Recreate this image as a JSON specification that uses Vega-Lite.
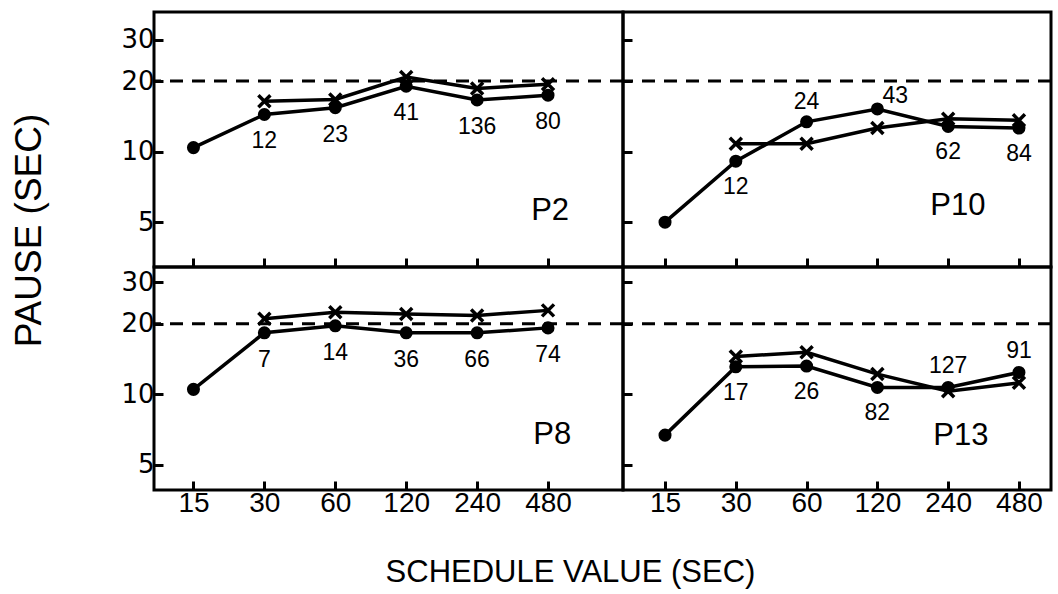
{
  "$schema": "https://vega.github.io/schema/vega-lite/v6.json",
  "background": "white",
  "padding": {"left": 8, "top": 10, "right": 2, "bottom": 2},
  "bounds": "flush",
  "spacing": 0,
  "columns": 2,
  "config": {
    "view": {"stroke": "black", "strokeWidth": 3},
    "axis": {
      "domain": false, "grid": false, "tickColor": "black", "tickWidth": 3, "tickSize": -9,
      "labelColor": "black", "labelFont": "Liberation Sans", "labelPadding": 9,
      "titleColor": "black", "titleFont": "Liberation Sans", "titleFontWeight": "normal",
      "labelOverlap": false, "labelFlush": false
    },
    "text": {"font": "Liberation Sans", "color": "black"}
  },
  "datasets": {
    "pts": [
      {"panel": "P2", "series": "circle", "sched": 15, "pause": 10.4},
      {"panel": "P2", "series": "circle", "sched": 30, "pause": 14.4, "n": "12", "side": "below"},
      {"panel": "P2", "series": "circle", "sched": 60, "pause": 15.4, "n": "23", "side": "below"},
      {"panel": "P2", "series": "circle", "sched": 120, "pause": 19.0, "n": "41", "side": "below"},
      {"panel": "P2", "series": "circle", "sched": 240, "pause": 16.6, "n": "136", "side": "below"},
      {"panel": "P2", "series": "circle", "sched": 480, "pause": 17.4, "n": "80", "side": "below"},
      {"panel": "P2", "series": "x", "sched": 30, "pause": 16.4},
      {"panel": "P2", "series": "x", "sched": 60, "pause": 16.7},
      {"panel": "P2", "series": "x", "sched": 120, "pause": 20.8},
      {"panel": "P2", "series": "x", "sched": 240, "pause": 18.6},
      {"panel": "P2", "series": "x", "sched": 480, "pause": 19.4},
      {"panel": "P10", "series": "circle", "sched": 15, "pause": 5.0},
      {"panel": "P10", "series": "circle", "sched": 30, "pause": 9.1, "n": "12", "side": "below"},
      {"panel": "P10", "series": "circle", "sched": 60, "pause": 13.4, "n": "24", "side": "above"},
      {"panel": "P10", "series": "circle", "sched": 120, "pause": 15.2, "n": "43", "side": "aboveright"},
      {"panel": "P10", "series": "circle", "sched": 240, "pause": 12.8, "n": "62", "side": "below"},
      {"panel": "P10", "series": "circle", "sched": 480, "pause": 12.6, "n": "84", "side": "below"},
      {"panel": "P10", "series": "x", "sched": 30, "pause": 10.8},
      {"panel": "P10", "series": "x", "sched": 60, "pause": 10.8},
      {"panel": "P10", "series": "x", "sched": 120, "pause": 12.6},
      {"panel": "P10", "series": "x", "sched": 240, "pause": 13.8},
      {"panel": "P10", "series": "x", "sched": 480, "pause": 13.6},
      {"panel": "P8", "series": "circle", "sched": 15, "pause": 10.5},
      {"panel": "P8", "series": "circle", "sched": 30, "pause": 18.3, "n": "7", "side": "below"},
      {"panel": "P8", "series": "circle", "sched": 60, "pause": 19.6, "n": "14", "side": "below"},
      {"panel": "P8", "series": "circle", "sched": 120, "pause": 18.3, "n": "36", "side": "below"},
      {"panel": "P8", "series": "circle", "sched": 240, "pause": 18.3, "n": "66", "side": "below"},
      {"panel": "P8", "series": "circle", "sched": 480, "pause": 19.2, "n": "74", "side": "below"},
      {"panel": "P8", "series": "x", "sched": 30, "pause": 21.0},
      {"panel": "P8", "series": "x", "sched": 60, "pause": 22.4},
      {"panel": "P8", "series": "x", "sched": 120, "pause": 22.0},
      {"panel": "P8", "series": "x", "sched": 240, "pause": 21.7},
      {"panel": "P8", "series": "x", "sched": 480, "pause": 22.8},
      {"panel": "P13", "series": "circle", "sched": 15, "pause": 6.7},
      {"panel": "P13", "series": "circle", "sched": 30, "pause": 13.1, "n": "17", "side": "below"},
      {"panel": "P13", "series": "circle", "sched": 60, "pause": 13.2, "n": "26", "side": "below"},
      {"panel": "P13", "series": "circle", "sched": 120, "pause": 10.7, "n": "82", "side": "below"},
      {"panel": "P13", "series": "circle", "sched": 240, "pause": 10.7, "n": "127", "side": "above"},
      {"panel": "P13", "series": "circle", "sched": 480, "pause": 12.4, "n": "91", "side": "above"},
      {"panel": "P13", "series": "x", "sched": 30, "pause": 14.5},
      {"panel": "P13", "series": "x", "sched": 60, "pause": 15.1},
      {"panel": "P13", "series": "x", "sched": 120, "pause": 12.2},
      {"panel": "P13", "series": "x", "sched": 240, "pause": 10.3},
      {"panel": "P13", "series": "x", "sched": 480, "pause": 11.2}
    ]
  },
  "concat": [
    {
      "width": 469, "height": 255,
      "data": {"name": "pts"},
      "layer": [
        {"transform": [{"filter": "datum.panel === 'P2' && datum.series === 'circle'"}],
         "mark": {"type": "line", "color": "black", "strokeWidth": 3.5},
         "encoding": {
           "x": {"field": "sched", "type": "quantitative", "scale": {"type": "log", "base": 2, "domain": [10.2, 999], "nice": false},
                 "axis": {"values": [15, 30, 60, 120, 240, 480], "labels": false, "title": null}},
           "y": {"field": "pause", "type": "quantitative", "scale": {"type": "log", "domain": [3.22, 39.4], "nice": false},
                 "axis": {"values": [5, 10, 20, 30], "format": "d", "labelFont": "DejaVu Sans", "labelFontSize": 26,
                          "title": "PAUSE (SEC)", "titleFontSize": 37, "titleX": -125, "titleY": 218, "titleAngle": -90,
                          "titleAlign": "center", "titleBaseline": "middle"}}
         }},
        {"data": {"values": [{"pause": 20}]},
         "mark": {"type": "rule", "strokeDash": [13, 9], "strokeWidth": 3, "color": "black"},
         "encoding": {"y": {"field": "pause", "type": "quantitative"}}},
        {"transform": [{"filter": "datum.panel === 'P2' && datum.series === 'x'"}],
         "mark": {"type": "line", "color": "black", "strokeWidth": 3.5},
         "encoding": {"x": {"field": "sched", "type": "quantitative"}, "y": {"field": "pause", "type": "quantitative"}}},
        {"transform": [{"filter": "datum.panel === 'P2' && datum.series === 'circle'"}],
         "mark": {"type": "point", "shape": "circle", "filled": true, "size": 170, "color": "black", "opacity": 1},
         "encoding": {"x": {"field": "sched", "type": "quantitative"}, "y": {"field": "pause", "type": "quantitative"}}},
        {"transform": [{"filter": "datum.panel === 'P2' && datum.series === 'x'"}],
         "mark": {"type": "point", "shape": "M-1,-1L1,1M-1,1L1,-1", "filled": false, "size": 144, "strokeWidth": 3.5, "color": "black", "opacity": 1},
         "encoding": {"x": {"field": "sched", "type": "quantitative"}, "y": {"field": "pause", "type": "quantitative"}}},
        {"transform": [{"filter": "datum.panel === 'P2' && datum.side === 'below'"}],
         "mark": {"type": "text", "fontSize": 23, "baseline": "middle", "dy": 27},
         "encoding": {"x": {"field": "sched", "type": "quantitative"}, "y": {"field": "pause", "type": "quantitative"}, "text": {"field": "n"}}},
        {"data": {"values": [{"label": "P2"}]},
         "mark": {"type": "text", "fontSize": 31, "baseline": "middle"},
         "encoding": {"x": {"datum": 490}, "y": {"datum": 5.6}, "text": {"field": "label"}}}
      ]
    },
    {
      "width": 428, "height": 255,
      "data": {"name": "pts"},
      "layer": [
        {"transform": [{"filter": "datum.panel === 'P10' && datum.series === 'circle'"}],
         "mark": {"type": "line", "color": "black", "strokeWidth": 3.5},
         "encoding": {
           "x": {"field": "sched", "type": "quantitative", "scale": {"type": "log", "base": 2, "domain": [9.94, 657], "nice": false},
                 "axis": {"values": [15, 30, 60, 120, 240, 480], "labels": false, "title": null}},
           "y": {"field": "pause", "type": "quantitative", "scale": {"type": "log", "domain": [3.22, 39.4], "nice": false},
                 "axis": {"values": [5, 10, 20, 30], "labels": false, "title": null}}
         }},
        {"data": {"values": [{"pause": 20}]},
         "mark": {"type": "rule", "strokeDash": [13, 9], "strokeWidth": 3, "color": "black"},
         "encoding": {"y": {"field": "pause", "type": "quantitative"}}},
        {"transform": [{"filter": "datum.panel === 'P10' && datum.series === 'x'"}],
         "mark": {"type": "line", "color": "black", "strokeWidth": 3.5},
         "encoding": {"x": {"field": "sched", "type": "quantitative"}, "y": {"field": "pause", "type": "quantitative"}}},
        {"transform": [{"filter": "datum.panel === 'P10' && datum.series === 'circle'"}],
         "mark": {"type": "point", "shape": "circle", "filled": true, "size": 170, "color": "black", "opacity": 1},
         "encoding": {"x": {"field": "sched", "type": "quantitative"}, "y": {"field": "pause", "type": "quantitative"}}},
        {"transform": [{"filter": "datum.panel === 'P10' && datum.series === 'x'"}],
         "mark": {"type": "point", "shape": "M-1,-1L1,1M-1,1L1,-1", "filled": false, "size": 144, "strokeWidth": 3.5, "color": "black", "opacity": 1},
         "encoding": {"x": {"field": "sched", "type": "quantitative"}, "y": {"field": "pause", "type": "quantitative"}}},
        {"transform": [{"filter": "datum.panel === 'P10' && datum.side === 'below'"}],
         "mark": {"type": "text", "fontSize": 23, "baseline": "middle", "dy": 26},
         "encoding": {"x": {"field": "sched", "type": "quantitative"}, "y": {"field": "pause", "type": "quantitative"}, "text": {"field": "n"}}},
        {"transform": [{"filter": "datum.panel === 'P10' && datum.side === 'above'"}],
         "mark": {"type": "text", "fontSize": 23, "baseline": "middle", "dy": -20},
         "encoding": {"x": {"field": "sched", "type": "quantitative"}, "y": {"field": "pause", "type": "quantitative"}, "text": {"field": "n"}}},
        {"transform": [{"filter": "datum.panel === 'P10' && datum.side === 'aboveright'"}],
         "mark": {"type": "text", "fontSize": 23, "baseline": "middle", "dy": -13, "dx": 18},
         "encoding": {"x": {"field": "sched", "type": "quantitative"}, "y": {"field": "pause", "type": "quantitative"}, "text": {"field": "n"}}},
        {"data": {"values": [{"label": "P10"}]},
         "mark": {"type": "text", "fontSize": 31, "baseline": "middle"},
         "encoding": {"x": {"datum": 264}, "y": {"datum": 5.85}, "text": {"field": "label"}}}
      ]
    },
    {
      "width": 469, "height": 223,
      "data": {"name": "pts"},
      "layer": [
        {"transform": [{"filter": "datum.panel === 'P8' && datum.series === 'circle'"}],
         "mark": {"type": "line", "color": "black", "strokeWidth": 3.5},
         "encoding": {
           "x": {"field": "sched", "type": "quantitative", "scale": {"type": "log", "base": 2, "domain": [10.2, 999], "nice": false},
                 "axis": {"values": [15, 30, 60, 120, 240, 480], "format": "d", "labelFontSize": 28, "labelPadding": 8,
                          "title": "SCHEDULE VALUE (SEC)", "titleFontSize": 31, "titleX": 416, "titleY": 82,
                          "titleAlign": "center", "titleBaseline": "middle"}},
           "y": {"field": "pause", "type": "quantitative", "scale": {"type": "log", "domain": [3.91, 34.9], "nice": false},
                 "axis": {"values": [5, 10, 20, 30], "format": "d", "labelFont": "DejaVu Sans", "labelFontSize": 26, "title": null}}
         }},
        {"data": {"values": [{"pause": 20}]},
         "mark": {"type": "rule", "strokeDash": [13, 9], "strokeWidth": 3, "color": "black"},
         "encoding": {"y": {"field": "pause", "type": "quantitative"}}},
        {"transform": [{"filter": "datum.panel === 'P8' && datum.series === 'x'"}],
         "mark": {"type": "line", "color": "black", "strokeWidth": 3.5},
         "encoding": {"x": {"field": "sched", "type": "quantitative"}, "y": {"field": "pause", "type": "quantitative"}}},
        {"transform": [{"filter": "datum.panel === 'P8' && datum.series === 'circle'"}],
         "mark": {"type": "point", "shape": "circle", "filled": true, "size": 170, "color": "black", "opacity": 1},
         "encoding": {"x": {"field": "sched", "type": "quantitative"}, "y": {"field": "pause", "type": "quantitative"}}},
        {"transform": [{"filter": "datum.panel === 'P8' && datum.series === 'x'"}],
         "mark": {"type": "point", "shape": "M-1,-1L1,1M-1,1L1,-1", "filled": false, "size": 144, "strokeWidth": 3.5, "color": "black", "opacity": 1},
         "encoding": {"x": {"field": "sched", "type": "quantitative"}, "y": {"field": "pause", "type": "quantitative"}}},
        {"transform": [{"filter": "datum.panel === 'P8' && datum.side === 'below'"}],
         "mark": {"type": "text", "fontSize": 23, "baseline": "middle", "dy": 27},
         "encoding": {"x": {"field": "sched", "type": "quantitative"}, "y": {"field": "pause", "type": "quantitative"}, "text": {"field": "n"}}},
        {"data": {"values": [{"label": "P8"}]},
         "mark": {"type": "text", "fontSize": 31, "baseline": "middle"},
         "encoding": {"x": {"datum": 500}, "y": {"datum": 6.7}, "text": {"field": "label"}}}
      ]
    },
    {
      "width": 428, "height": 223,
      "data": {"name": "pts"},
      "layer": [
        {"transform": [{"filter": "datum.panel === 'P13' && datum.series === 'circle'"}],
         "mark": {"type": "line", "color": "black", "strokeWidth": 3.5},
         "encoding": {
           "x": {"field": "sched", "type": "quantitative", "scale": {"type": "log", "base": 2, "domain": [9.94, 657], "nice": false},
                 "axis": {"values": [15, 30, 60, 120, 240, 480], "format": "d", "labelFontSize": 28, "labelPadding": 8, "title": null}},
           "y": {"field": "pause", "type": "quantitative", "scale": {"type": "log", "domain": [3.91, 34.9], "nice": false},
                 "axis": {"values": [5, 10, 20, 30], "labels": false, "title": null}}
         }},
        {"data": {"values": [{"pause": 20}]},
         "mark": {"type": "rule", "strokeDash": [13, 9], "strokeWidth": 3, "color": "black"},
         "encoding": {"y": {"field": "pause", "type": "quantitative"}}},
        {"transform": [{"filter": "datum.panel === 'P13' && datum.series === 'x'"}],
         "mark": {"type": "line", "color": "black", "strokeWidth": 3.5},
         "encoding": {"x": {"field": "sched", "type": "quantitative"}, "y": {"field": "pause", "type": "quantitative"}}},
        {"transform": [{"filter": "datum.panel === 'P13' && datum.series === 'circle'"}],
         "mark": {"type": "point", "shape": "circle", "filled": true, "size": 170, "color": "black", "opacity": 1},
         "encoding": {"x": {"field": "sched", "type": "quantitative"}, "y": {"field": "pause", "type": "quantitative"}}},
        {"transform": [{"filter": "datum.panel === 'P13' && datum.series === 'x'"}],
         "mark": {"type": "point", "shape": "M-1,-1L1,1M-1,1L1,-1", "filled": false, "size": 144, "strokeWidth": 3.5, "color": "black", "opacity": 1},
         "encoding": {"x": {"field": "sched", "type": "quantitative"}, "y": {"field": "pause", "type": "quantitative"}}},
        {"transform": [{"filter": "datum.panel === 'P13' && datum.side === 'below'"}],
         "mark": {"type": "text", "fontSize": 23, "baseline": "middle", "dy": 26},
         "encoding": {"x": {"field": "sched", "type": "quantitative"}, "y": {"field": "pause", "type": "quantitative"}, "text": {"field": "n"}}},
        {"transform": [{"filter": "datum.panel === 'P13' && datum.side === 'above'"}],
         "mark": {"type": "text", "fontSize": 23, "baseline": "middle", "dy": -21},
         "encoding": {"x": {"field": "sched", "type": "quantitative"}, "y": {"field": "pause", "type": "quantitative"}, "text": {"field": "n"}}},
        {"data": {"values": [{"label": "P13"}]},
         "mark": {"type": "text", "fontSize": 31, "baseline": "middle"},
         "encoding": {"x": {"datum": 272}, "y": {"datum": 6.64}, "text": {"field": "label"}}}
      ]
    }
  ]
}
